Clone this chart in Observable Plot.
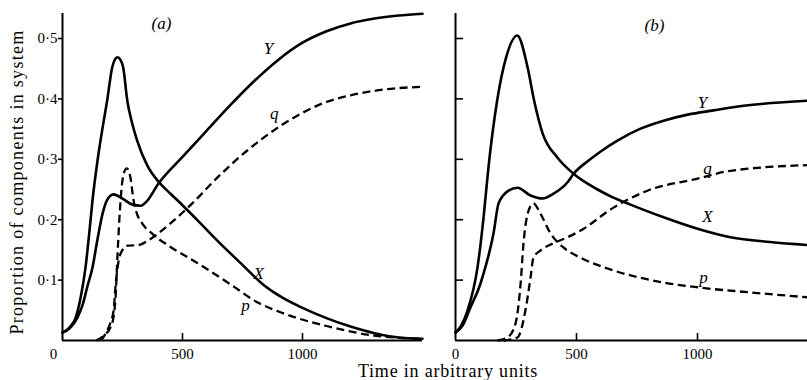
<!DOCTYPE html>
<html>
<head>
<meta charset="utf-8">
<script src="https://cdn.jsdelivr.net/npm/d3@7"></script>
<script src="https://cdn.jsdelivr.net/npm/@observablehq/plot@0.6"></script>
<style>
  body { margin: 0; background: #fff; }
  #wrap { position: relative; width: 807px; height: 380px; overflow: hidden; background: #fff; font-family: "Liberation Serif", "Times New Roman", serif; color: #000; }
  #wrap svg { position: absolute; top: 0; }
  #xtitle { position: absolute; left: 298px; width: 300px; top: 362px; text-align: center; font-size: 18px; line-height: 18px; letter-spacing: 0.8px; white-space: nowrap; }
</style>
</head>
<body>
<div id="wrap"><div id="xtitle"></div></div>
<script>
// ---------- data (time in arbitrary units, proportion) ----------
const xTitle = "Time in arbitrary units";
const yTitle = "Proportion of components in system";
const xTicks = [0, 500, 1000];
const yTicks = [0.1, 0.2, 0.3, 0.4, 0.5];
const xDomain = [0, 1500];
const yDomain = [0, 0.5414];
const panelNames = ["(a)", "(b)"];
const seriesNames = ["X", "Y", "p", "q"];

// panel (a)
const aX = [[0,0.013],[30,0.022],[55,0.038],[75,0.07],[96,0.121],[112,0.18],[125,0.232],[146,0.298],[166,0.35],[186,0.397],[207,0.452],[218,0.465],[229,0.469],[241,0.465],[253,0.452],[270,0.397],[290,0.36],[311,0.331],[353,0.29],[400,0.263],[450,0.243],[500,0.224],[560,0.2],[646,0.165],[740,0.129],[838,0.092],[920,0.07],[1000,0.054],[1100,0.037],[1200,0.023],[1300,0.012],[1400,0.005],[1500,0.003]];
const aY = [[0,0.013],[30,0.02],[62,0.038],[83,0.058],[104,0.09],[125,0.121],[146,0.168],[167,0.21],[185,0.232],[213,0.242],[250,0.235],[290,0.225],[325,0.223],[350,0.23],[400,0.26],[500,0.304],[600,0.347],[700,0.39],[800,0.43],[900,0.465],[1000,0.493],[1100,0.512],[1200,0.525],[1300,0.533],[1400,0.538],[1500,0.541]];
const ap = [[140,0],[171,0.008],[200,0.022],[213,0.04],[221,0.07],[229,0.14],[242,0.232],[254,0.275],[268,0.285],[283,0.27],[296,0.232],[310,0.21],[330,0.195],[379,0.175],[442,0.157],[563,0.128],[700,0.093],[813,0.063],[900,0.048],[979,0.037],[1100,0.024],[1187,0.016],[1300,0.008],[1500,0.003]];
const aq = [[160,0],[179,0.011],[200,0.03],[213,0.05],[221,0.09],[233,0.13],[250,0.15],[271,0.157],[317,0.158],[358,0.166],[429,0.187],[533,0.224],[646,0.27],[771,0.315],[888,0.35],[1000,0.377],[1100,0.395],[1200,0.406],[1350,0.416],[1500,0.42]];

// panel (b)
const bX = [[0,0.013],[25,0.026],[50,0.05],[91,0.121],[116,0.204],[136,0.286],[172,0.397],[210,0.47],[255,0.505],[298,0.452],[325,0.397],[360,0.343],[421,0.303],[488,0.276],[587,0.25],[650,0.237],[723,0.225],[860,0.204],[1000,0.185],[1136,0.171],[1300,0.163],[1500,0.157]];
const bY = [[0,0.013],[30,0.025],[62,0.055],[103,0.094],[116,0.111],[157,0.177],[178,0.227],[219,0.248],[256,0.253],[310,0.24],[360,0.235],[405,0.243],[463,0.262],[488,0.276],[550,0.298],[600,0.313],[669,0.331],[760,0.35],[860,0.364],[960,0.374],[1066,0.381],[1160,0.387],[1273,0.392],[1455,0.397],[1500,0.398]];
const bp = [[174,0],[215,0.005],[248,0.028],[269,0.094],[281,0.161],[302,0.215],[322,0.227],[351,0.21],[393,0.177],[446,0.154],[517,0.137],[653,0.116],[860,0.096],[1000,0.088],[1207,0.08],[1500,0.07]];
const bq = [[198,0],[256,0.005],[289,0.05],[310,0.104],[322,0.137],[351,0.149],[405,0.161],[463,0.171],[517,0.182],[653,0.22],[793,0.248],[1000,0.268],[1136,0.281],[1500,0.291]];

// curve label anchors [t, proportion] in order X, Y, p, q
const aLabelAt = [[817,0.111],[858,0.483],[763,0.058],[882,0.376]];
const bLabelAt = [[1041,0.205],[1021,0.394],[1025,0.104],[1041,0.285]];
const aPanelAt = [[412,0.525]];
const bPanelAt = [[822,0.5215]];

// ---------- drawing ----------
const fmt = d => d.toFixed(1).replace(".", "\u00B7");
const solid = {curve: "monotone-x", strokeWidth: 2.6, stroke: "#000"};
const dashed = {curve: "monotone-x", strokeWidth: 2.3, stroke: "#000", strokeDasharray: "8,4.5", strokeLinecap: "butt"};
const P = {x: d => d[0], y: d => d[1]};
const baseStyle = {background: "transparent", fontFamily: "Liberation Serif, Times New Roman, serif", fontSize: "15px", color: "#000", overflow: "visible"};

function curveMarks(X, Y, p, q, labelAt, panelAt, panelName) {
  return [
    Plot.line(X, {...P, ...solid}),
    Plot.line(Y, {...P, ...solid}),
    Plot.line(p, {...P, ...dashed}),
    Plot.line(q, {...P, ...dashed}),
    Plot.text(labelAt, {x: d => d[0], y: d => d[1], text: (d, i) => seriesNames[i], fontSize: 17, fontStyle: "italic", fill: "#000"}),
    Plot.text(panelAt, {x: d => d[0], y: d => d[1], text: () => panelName, fontSize: 17, fontStyle: "italic", fill: "#000"})
  ];
}

const plotA = Plot.plot({
  width: 430, height: 360,
  marginLeft: 62, marginRight: 8, marginTop: 13, marginBottom: 20,
  x: {domain: xDomain},
  y: {domain: yDomain},
  style: baseStyle,
  marks: [
    Plot.axisY(yTicks, {tickSize: 4, tickPadding: 1, tickFormat: fmt, fontSize: 15, strokeWidth: 1.6, label: null}),
    Plot.axisX(xTicks.filter(d => d > 0), {tickSize: 0, tickPadding: 8, tickFormat: d => String(d), fontSize: 15, label: null}),
    Plot.text(xTicks.filter(d => d === 0), {x: d => d, text: d => String(d), frameAnchor: "bottom", lineAnchor: "top", dy: 8, dx: -9, fontSize: 15, fill: "#000"}),
    Plot.ruleX(xTicks.filter(d => d > 0), {x: d => d, y1: 0, y2: 0, insetTop: -7, strokeWidth: 1.6}),
    Plot.ruleX([0], {strokeWidth: 2}),
    Plot.ruleY([0], {strokeWidth: 2}),
    ...curveMarks(aX, aY, ap, aq, aLabelAt, aPanelAt, panelNames[0]),
    Plot.text([yTitle], {frameAnchor: "left", textAnchor: "middle", dx: -45, dy: 5, rotate: -90, fontSize: 18, fill: "#000"})
  ]
});

const plotB = Plot.plot({
  width: 433, height: 360,
  marginLeft: 62, marginRight: 8, marginTop: 13, marginBottom: 20,
  x: {domain: xDomain},
  y: {domain: yDomain, axis: null},
  style: baseStyle,
  marks: [
    Plot.axisX(xTicks, {tickSize: 0, tickPadding: 8, tickFormat: d => String(d), fontSize: 15, label: null}),
    Plot.ruleX(xTicks.filter(d => d > 0), {x: d => d, y1: 0, y2: 0, insetTop: -7, strokeWidth: 1.6}),
    Plot.ruleY(yTicks, {y: d => d, x1: 0, x2: 0, insetRight: -8, strokeWidth: 1.6}),
    Plot.ruleX([0], {strokeWidth: 2}),
    Plot.ruleY([0], {strokeWidth: 2}),
    ...curveMarks(bX, bY, bp, bq, bLabelAt, bPanelAt, panelNames[1])
  ]
});

const wrap = document.getElementById("wrap");
plotA.style.left = "0px";
plotB.style.left = "393px";
wrap.appendChild(plotA);
wrap.appendChild(plotB);
document.getElementById("xtitle").textContent = xTitle;

d3.select(plotA).selectAll("text").filter(function () { return this.textContent === yTitle; })
  .attr("letter-spacing", "1.3px");
</script>
</body>
</html>
